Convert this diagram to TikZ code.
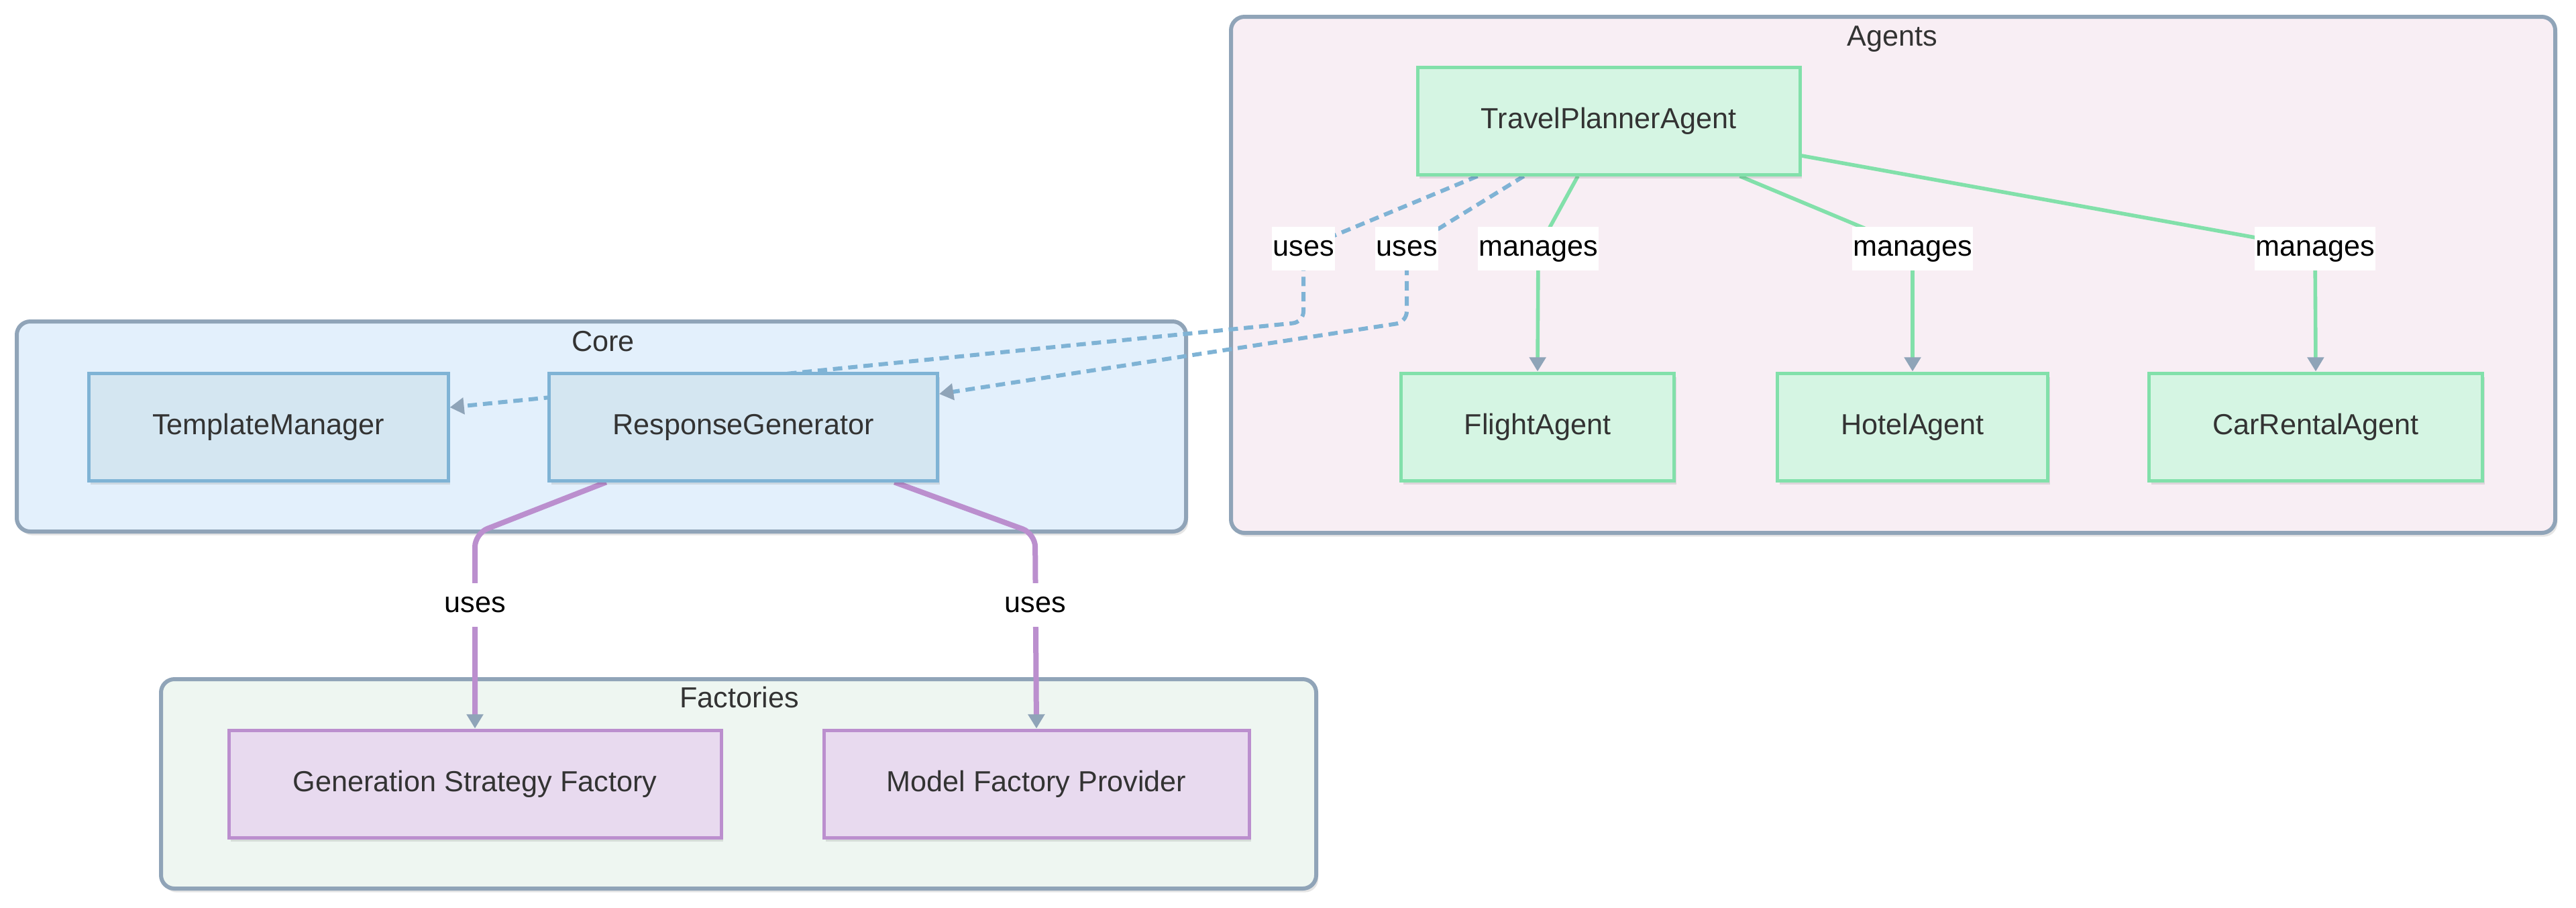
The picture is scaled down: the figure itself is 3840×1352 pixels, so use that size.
\documentclass[tikz,border=0pt]{standalone}
\usepackage{fontspec}
\setmainfont{Liberation Sans}
\usetikzlibrary{arrows.meta,calc}
\pgfdeclarelayer{clusters}
\pgfdeclarelayer{edges}
\pgfsetlayers{clusters,edges,main}
\definecolor{clstroke}{HTML}{90A4B8}
\definecolor{agentsfill}{HTML}{F8EEF4}
\definecolor{corefill}{HTML}{E3F0FC}
\definecolor{factfill}{HTML}{EEF6F1}
\definecolor{gstroke}{HTML}{82E0AA}
\definecolor{gfill}{HTML}{D5F5E3}
\definecolor{bstroke}{HTML}{7FB3D5}
\definecolor{bfill}{HTML}{D4E6F1}
\definecolor{pstroke}{HTML}{BB8FCE}
\definecolor{pfill}{HTML}{E8DAEF}
\definecolor{tipgray}{HTML}{8FA4B8}
\definecolor{txt}{HTML}{333333}
\tikzset{
  every node/.style={font=\fontsize{10.8}{13}\selectfont},
  softshadow/.style={preaction={fill=black, fill opacity=0.10, draw=none,
    transform canvas={xshift=0.8pt, yshift=-1.4pt}}},
  cluster/.style={draw=clstroke, line width=1.5pt, rounded corners=5pt, softshadow},
  cltitle/.style={text=txt, text height=7.8pt, text depth=2.3pt},
  basenode/.style={rectangle, line width=1.25pt, text=txt, minimum height=40pt, inner sep=0pt,
    text height=7.8pt, text depth=2.3pt, softshadow},
  gnode/.style={basenode, draw=gstroke, fill=gfill},
  bnode/.style={basenode, draw=bstroke, fill=bfill},
  pnode/.style={basenode, draw=pstroke, fill=pfill},
  elabel/.style={fill=white, text=black, inner xsep=0.3pt, inner ysep=0pt, minimum height=16.25pt,
    text height=7.8pt, text depth=2.3pt},
  tip/.style={-{Triangle[length=5.3pt,width=6pt,color=tipgray]}},
  managesedge/.style={draw=gstroke, line width=1.4pt, tip},
  usesdash/.style={draw=bstroke, line width=1.5pt, dash pattern=on 3.5pt off 2.2pt, tip, rounded corners=4pt},
  usespurple/.style={draw=pstroke, line width=2pt, tip, rounded corners=5pt},
}
\begin{document}
\begin{tikzpicture}[x=0.25pt,y=-0.25pt]
\useasboundingbox (0,0) rectangle (3840,1352);
% clusters
\begin{pgfonlayer}{clusters}
  \draw[cluster, fill=agentsfill] (1835,25) rectangle (3809,794);
  \draw[cluster, fill=corefill] (25,479) rectangle (1768,792);
  \draw[cluster, fill=factfill] (240,1012) rectangle (1962,1324);
\end{pgfonlayer}
\node[cltitle] (tagents) at (2821,57) {Agents};
\node[cltitle] (tcore) at (899,512) {Core};
\node[cltitle] (tfact) at (1102,1043) {Factories};
% nodes
\node[gnode, minimum width=142.5pt] (tpa) at (2398,180) {TravelPlannerAgent};
\node[gnode, minimum width=101.75pt] (fa) at (2292,636) {FlightAgent};
\node[gnode, minimum width=100.75pt] (ha) at (2851,636) {HotelAgent};
\node[gnode, minimum width=124.25pt] (ca) at (3452,636) {CarRentalAgent};
\node[bnode, minimum width=134pt] (tm) at (400,636) {TemplateManager};
\node[bnode, minimum width=144.75pt] (rg) at (1108,636) {ResponseGenerator};
\node[pnode, minimum width=183.5pt] (gsf) at (708,1168) {Generation Strategy Factory};
\node[pnode, minimum width=158.5pt] (mfp) at (1545,1168) {Model Factory Provider};
% edge labels
\node[elabel] (lu1) at (1943,370) {uses};
\node[elabel] (lu2) at (2097,370) {uses};
\node[elabel] (lm1) at (2293,370) {manages};
\node[elabel] (lm2) at (2851,370) {manages};
\node[elabel] (lm3) at (3451,370) {manages};
\node[elabel] (lp1) at (708,901) {uses};
\node[elabel] (lp2) at (1543,901) {uses};
\coordinate (cu1) at (1943,480);
\coordinate (cu2) at (2097,480);
\coordinate (cp1) at (708,795);
\coordinate (cp2) at (1543,795);
% edges
\begin{pgfonlayer}{edges}
  \draw[usesdash] ($(tpa.south west)!0.16!(tpa.south east)$) -- (lu1.center) -- (cu1) -- ([yshift=7.25pt]tm.east);
  \draw[usesdash] ($(tpa.south west)!0.28!(tpa.south east)$) -- (lu2.center) -- (cu2) -- ([yshift=12.25pt]rg.east);
  \draw[managesedge] ($(tpa.south west)!0.42!(tpa.south east)$) -- (lm1.center) -- (fa.north);
  \draw[managesedge] ($(tpa.south west)!0.84!(tpa.south east)$) -- (lm2.center) -- (ha.north);
  \draw[managesedge] ([yshift=-13pt]tpa.east) -- (lm3.center) -- (ca.north);
  \draw[usespurple] ($(rg.south west)!0.15!(rg.south east)$) -- (cp1) -- (gsf.north);
  \draw[usespurple] ($(rg.south west)!0.886!(rg.south east)$) -- (cp2) -- (mfp.north);
\end{pgfonlayer}
\end{tikzpicture}
\end{document}
